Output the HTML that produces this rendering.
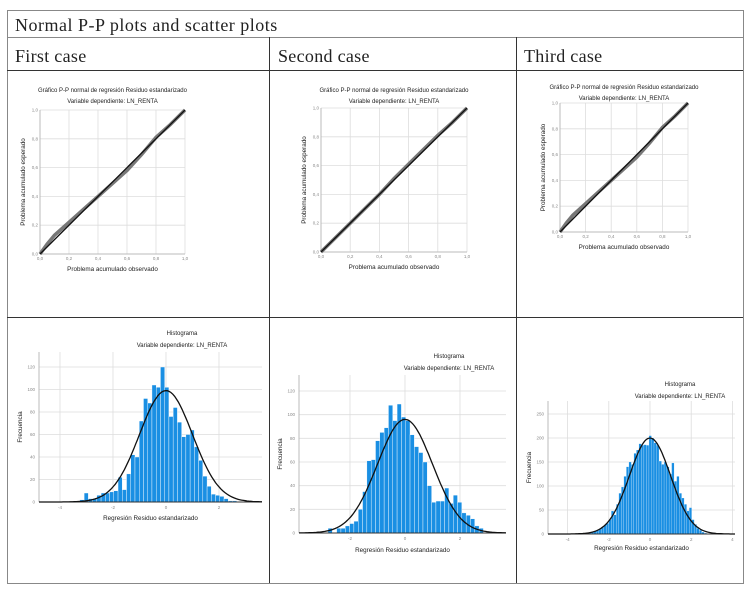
<!DOCTYPE html>
<html><head><meta charset="utf-8"><style>
body{margin:0;background:#fff;width:751px;height:589px;overflow:hidden;font-family:"Liberation Serif",serif}
svg{position:absolute;left:0;top:0}
</style></head><body>
<svg id="s" width="751" height="589" xmlns="http://www.w3.org/2000/svg">
<g stroke="#333" stroke-width="1" fill="none">
<rect x="7.5" y="10.5" width="736" height="573" stroke="#888"/>
<line x1="7" y1="37.5" x2="743" y2="37.5" stroke="#888"/>
<line x1="7" y1="70.5" x2="743" y2="70.5"/>
<line x1="7" y1="317.5" x2="743" y2="317.5"/>
<line x1="269.5" y1="37" x2="269.5" y2="583"/>
<line x1="516.5" y1="37" x2="516.5" y2="583"/>
</g>
<text x="15" y="31" font-size="18" letter-spacing="0.5" fill="#222">Normal P-P plots and scatter plots</text>
<text x="15" y="62" font-size="18" letter-spacing="0.3" fill="#222">First case</text>
<text x="278" y="62" font-size="18" letter-spacing="0.3" fill="#222">Second case</text>
<text x="524" y="62" font-size="18" letter-spacing="0.3" fill="#222">Third case</text>
<g id="charts"></g>
</svg>
<script>
// P-P data (observed, expected) per case
const ppObs1=[0,0.05,0.1,0.2,0.3,0.4,0.5,0.6,0.7,0.8,0.9,1];
const ppExp1=[0,0.07,0.13,0.22,0.31,0.4,0.49,0.58,0.69,0.81,0.9,1];
const ppObs2=[0,0.1,0.2,0.3,0.4,0.5,0.6,0.7,0.8,0.9,1];
const ppExp2=[0,0.1,0.2,0.3,0.4,0.51,0.61,0.71,0.81,0.9,1];
const ppObs3=[0,0.05,0.1,0.2,0.3,0.4,0.5,0.6,0.7,0.8,0.9,1];
const ppExp3=[0,0.07,0.13,0.22,0.31,0.4,0.49,0.58,0.69,0.81,0.9,1];
const ppTicks=["0,0","0,2","0,4","0,6","0,8","1,0"];
// histogram data
const hist1Start=-3.25, hist1Width=0.16;
const hist1Vals=[2,8,3,3,6,8,8,9,10,22,11,25,42,40,72,92,88,104,102,120,102,76,84,71,58,60,64,49,37,23,14,7,6,5,3,1,1];
const hist2Start=-2.8, hist2Width=0.157;
const hist2Vals=[4,0,4,4,6,8,10,20,35,61,62,78,85,89,108,95,109,98,95,83,73,68,60,40,26,27,27,38,25,32,26,17,15,12,6,4];
const hist3Start=-3.1, hist3Width=0.122;
const hist3Vals=[3,2,4,6,8,10,14,18,22,30,48,40,62,85,98,120,140,150,145,168,175,188,185,186,185,205,200,190,185,152,145,150,140,125,148,110,120,85,75,62,48,55,30,20,12,8,4,2,1];
const curvePeaks=[99,96,200];
const curveSd=[1,1,1];
const hist1YTicks=[0,20,40,60,80,100,120];
const hist2YTicks=[0,20,40,60,80,100,120];
const hist3YTicks=[0,50,100,150,200,250];
const hist1XTicks=[-4,-2,0,2];
const hist2XTicks=[-2,0,2];
const hist3XTicks=[-4,-2,0,2,4];

const NS="http://www.w3.org/2000/svg";
const root=document.getElementById('charts');
function el(t,a,p){const e=document.createElementNS(NS,t);for(const k in a)e.setAttribute(k,a[k]);(p||root).appendChild(e);return e;}
function txt(x,y,s,size,fill,anchor,p,rot){const e=el('text',{x:x,y:y,'font-size':size,fill:fill,'text-anchor':anchor||'middle','font-family':'Liberation Sans, sans-serif'},p);if(rot)e.setAttribute('transform','rotate(-90 '+x+' '+y+')');e.textContent=s;return e;}

function pp(name,L,R,T,B,ty,obs,exp){
  const g=el('g',{});
  
  
  const sx=v=>L+v*(R-L), sy=v=>B-v*(B-T);
  for(let i=0;i<=5;i++){const v=i/5;
    el('line',{x1:sx(v),x2:sx(v),y1:T,y2:B,stroke:'#ddd','stroke-width':0.8},g);
    el('line',{x1:L,x2:R,y1:sy(v),y2:sy(v),stroke:'#ddd','stroke-width':0.8},g);
    const a=txt(sx(v),B+6,ppTicks[i],4.5,'#888','middle',g);
    const b=txt(L-2,sy(v)+1.5,ppTicks[i],4.5,'#888','end',g);
  }
  el('line',{x1:L,x2:L,y1:T,y2:B,stroke:'#bbb'},g);
  el('line',{x1:L,x2:R,y1:B,y2:B,stroke:'#bbb'},g);
  let d='';obs.forEach((o,i)=>{d+=(i?'L':'M')+sx(o)+' '+sy(exp[i]);});
  const pts=el('path',{d:d,stroke:'#777','stroke-width':3.5,fill:'none'},g);
  
  const ln=el('line',{x1:sx(0),y1:sy(0),x2:sx(1),y2:sy(1),stroke:'#111','stroke-width':1.3},g);
  
  const cx=(L+R)/2;
  let t=txt(cx,ty,'Gráfico P-P normal de regresión Residuo estandarizado',6,'#222','middle',g);
  t=txt(cx,ty+11,'Variable dependiente: LN_RENTA',6,'#222','middle',g);
  t=txt(cx,B+17,'Problema acumulado observado',6.3,'#222','middle',g);
  t=txt(L-15,(T+B)/2,'Problema acumulado esperado',6.3,'#222','middle',g,true);
}
pp('pp-plot-first',40,185,110,254,92,ppObs1,ppExp1);
pp('pp-plot-second',321,467,108,252,92,ppObs2,ppExp2);
pp('pp-plot-third',560,688,103,232,89,ppObs3,ppExp3);

function hist(name,o){
  const g=el('g',{});
  
  
  const sx=v=>o.x0+v*o.px, sy=v=>o.B-v*o.py;
  o.xt.forEach(v=>{el('line',{x1:sx(v),x2:sx(v),y1:o.T,y2:o.B,stroke:'#ddd','stroke-width':0.8},g);
    const t=txt(sx(v),o.B+7,String(v),4.5,'#888','middle',g);});
  o.yt.forEach(v=>{el('line',{x1:o.L,x2:o.R,y1:sy(v),y2:sy(v),stroke:'#ddd','stroke-width':0.8},g);
    const t=txt(o.L-4,sy(v)+1.5,String(v),4.5,'#888','end',g);});
  el('line',{x1:o.L,x2:o.L,y1:o.T,y2:o.B,stroke:'#bbb'},g);
  o.vals.forEach((v,i)=>{const a=o.start+i*o.w;
    const r=el('rect',{x:sx(a),y:sy(v),width:o.w*o.px,height:v*o.py,fill:'#1a8fe3',stroke:'#fff','stroke-width':o.sw},g);
    });
  el('line',{x1:o.L,x2:o.R,y1:o.B,y2:o.B,stroke:'#333','stroke-width':1},g);
  let d='';const lo=(o.L-o.x0)/o.px, hi=(o.R-o.x0)/o.px;
  for(let k=0;k<=120;k++){const x=lo+(hi-lo)*k/120;const y=o.peak*Math.exp(-x*x/(2*o.sd*o.sd));d+=(k?'L':'M')+sx(x).toFixed(1)+' '+sy(y).toFixed(1);}
  const c=el('path',{d:d,stroke:'#111','stroke-width':1.3,fill:'none'},g);
  
  let t=txt(o.tx,o.ty,'Histograma',6,'#222','middle',g);
  t=txt(o.tx,o.ty+12,'Variable dependiente: LN_RENTA',6,'#222','middle',g);
  t=txt((o.L+o.R)/2,o.xl,'Regresión Residuo estandarizado',6.3,'#222','middle',g);
  t=txt(o.L-17,(o.T+o.B)/2,'Frecuencia',6.3,'#222','middle',g,true);
}
hist('histogram-first',{L:39,R:262,T:352,B:502,x0:166,px:26.5,py:22.5/20,start:hist1Start,w:hist1Width,vals:hist1Vals,xt:hist1XTicks,yt:hist1YTicks,peak:curvePeaks[0],sd:curveSd[0],tx:182,ty:335,xl:520,sw:0.4});
hist('histogram-second',{L:299,R:506,T:375,B:533,x0:405,px:27.5,py:142/120,start:hist2Start,w:hist2Width,vals:hist2Vals,xt:hist2XTicks,yt:hist2YTicks,peak:curvePeaks[1],sd:curveSd[1],tx:449,ty:358,xl:552,sw:0.4});
hist('histogram-third',{L:548,R:735,T:401,B:534,x0:650,px:20.6,py:120/250,start:hist3Start,w:hist3Width,vals:hist3Vals,xt:hist3XTicks,yt:hist3YTicks,peak:curvePeaks[2],sd:curveSd[2],tx:680,ty:386,xl:550,sw:0.2});
</script>
</body></html>
